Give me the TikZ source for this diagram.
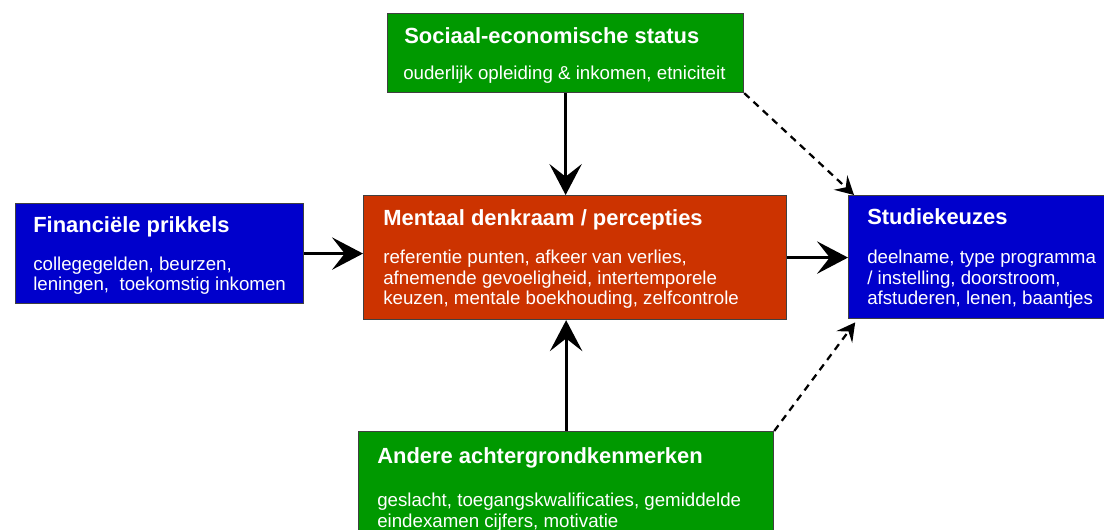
\documentclass[tikz,border=0pt]{standalone}
\usepackage{fontspec}
\setmainfont{Liberation Sans}
\usetikzlibrary{arrows.meta}
\definecolor{boxgreen}{RGB}{0,153,0}
\definecolor{boxblue}{RGB}{0,0,204}
\definecolor{boxred}{RGB}{204,51,0}
\newcommand{\boxtitle}{\fontsize{15.6}{18}\selectfont\bfseries}
\newcommand{\boxbody}{\fontsize{13.3}{14.9}\selectfont}
\begin{document}
\begin{tikzpicture}[x=0.025cm, y=-0.025cm,
  main box/.style={rectangle, draw=black!75, line width=0.8pt, anchor=north west, inner sep=0pt},
  title text/.style={anchor=base west, inner sep=0pt, text=white, font=\boxtitle},
  body text/.style={anchor=base west, inner sep=0pt, text=white, font=\boxbody, align=left},
  solid arrow/.style={line width=2.1pt, -{Stealth[length=22pt, width=23pt, inset=9pt]}},
  dashed arrow/.style={line width=1.6pt, dash pattern=on 5pt off 4pt, -{Stealth[length=13pt, width=14pt, inset=5pt]}}]
\useasboundingbox (0,0) rectangle (1104,530);
\begin{scope}
\node[main box, fill=boxgreen, minimum width=8.9cm, minimum height=1.975cm] (ses) at (387,13) {};
\node[main box, fill=boxblue, minimum width=7.2cm, minimum height=2.5cm] (fin) at (15,203) {};
\node[main box, fill=boxred, minimum width=10.575cm, minimum height=3.1cm] (mentaal) at (363,195) {};
\node[main box, fill=boxblue, minimum width=6.6cm, minimum height=3.075cm] (studie) at (848,195) {};
\node[main box, fill=boxgreen, minimum width=10.375cm, minimum height=3cm] (andere) at (358,431) {};
\end{scope}
% body nodes are placed by the baseline of their last line
\begin{scope}
\node[title text] (sesT) at (404,44) {Sociaal-economische status};
\node[body text] (sesB) at (403,80) {ouderlijk opleiding \& inkomen, etniciteit};
\node[title text] (finT) at (33,233) {Financiële prikkels};
\node[body text] (finB) at (33,291) {collegegelden, beurzen,\\leningen,\ \ toekomstig inkomen};
\node[title text] (mentaalT) at (383,226) {Mentaal denkraam / percepties};
\node[body text] (mentaalB) at (383,305) {referentie punten, afkeer van verlies,\\afnemende gevoeligheid, intertemporele\\keuzen, mentale boekhouding, zelfcontrole};
\node[title text] (studieT) at (867,225) {Studiekeuzes};
\node[body text] (studieB) at (867,305) {deelname, type programma\\/ instelling, doorstroom,\\afstuderen, lenen, baantjes};
\node[title text] (andereT) at (377,463) {Andere achtergrondkenmerken};
\node[body text] (andereB) at (377,527) {geslacht, toegangskwalificaties, gemiddelde\\eindexamen cijfers, motivatie};
\end{scope}
\begin{scope}
\draw[solid arrow] (ses.south) -- (ses.south |- mentaal.north);
\draw[solid arrow] (andere.north) -- (andere.north |- mentaal.south);
\draw[solid arrow] (fin.east) -- (fin.east -| mentaal.west);
\draw[solid arrow] (mentaal.east) -- (mentaal.east -| studie.west);
\draw[dashed arrow] (ses.south east) -- ([xshift=0.15cm]studie.north west);
\draw[dashed arrow] (andere.north east) -- ([xshift=0.18cm,yshift=-0.08cm]studie.south west);
\end{scope}
\end{tikzpicture}
\end{document}
